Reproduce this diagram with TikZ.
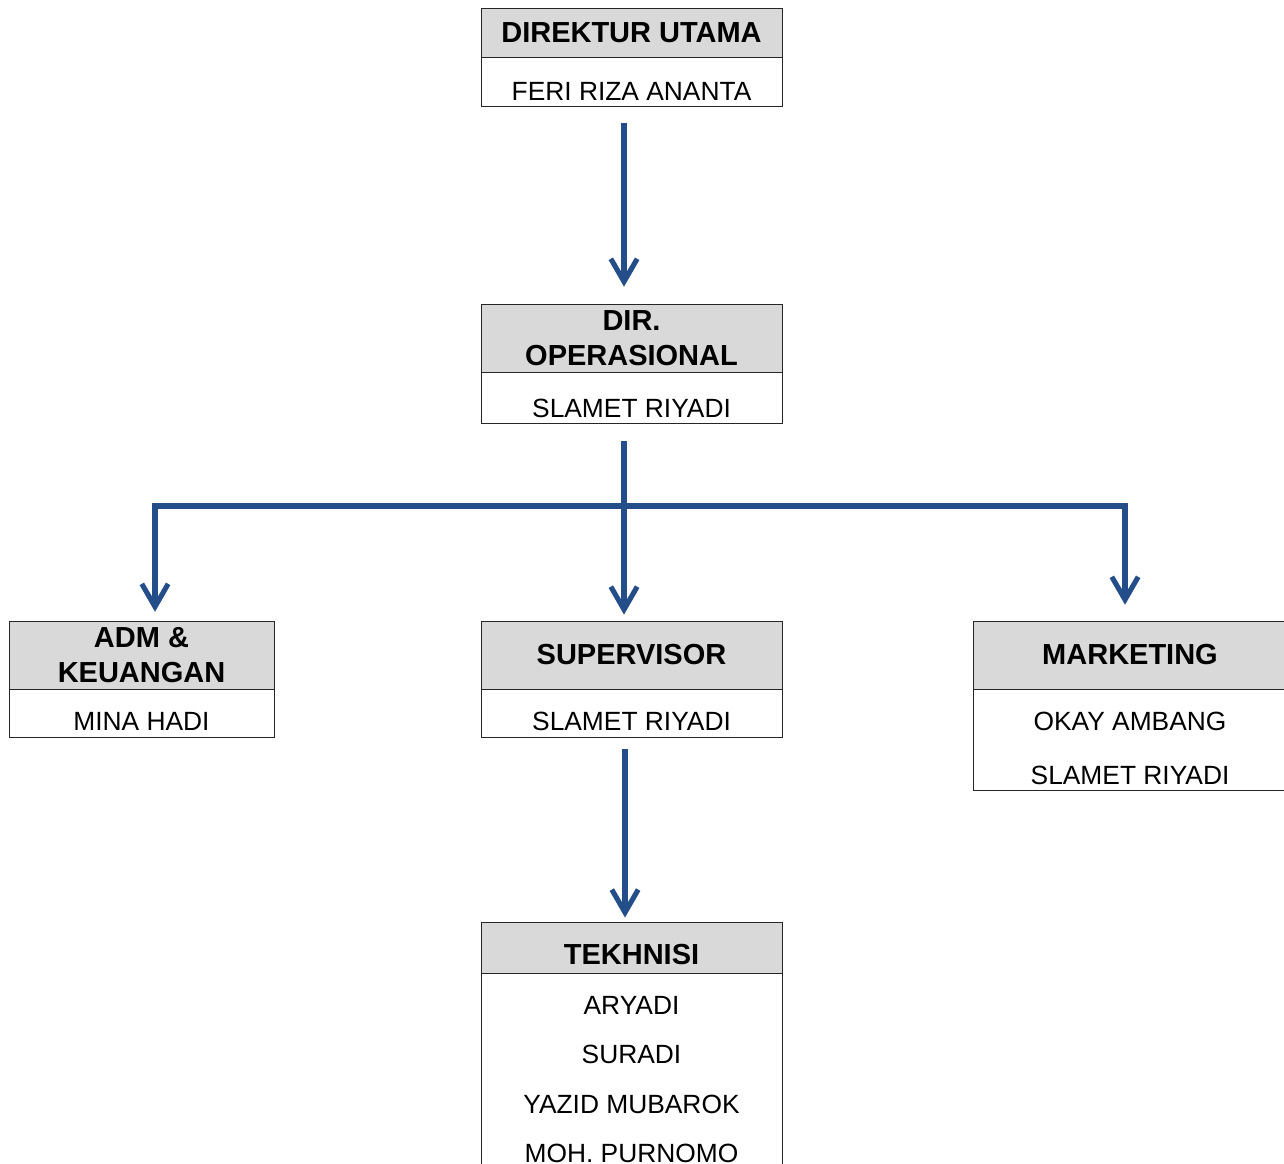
\documentclass[tikz,border=0pt]{standalone}
\usepackage{fontspec}
\setmainfont{Liberation Sans}
\usepackage{tikz}
\usetikzlibrary{arrows.meta,positioning}
\definecolor{headgray}{RGB}{217,217,217}
\definecolor{orgblue}{RGB}{36,78,138}
\tikzset
{
  headbox/.style  = {rectangle, draw=black!85, fill=headgray, align=center, inner sep=0pt, line width=0.5pt, font=\bfseries\fontsize{16.5}{19.8}\selectfont},
  bodybox/.style  = {rectangle, draw=black!85, fill=white, inner sep=0pt, line width=0.5pt},
  nametext/.style = {anchor=base, inner sep=0pt, font=\fontsize{15}{18}\selectfont},
  orgline/.style  = {draw=orgblue, line width=2.9pt},
  orgarrow/.style = {orgline, -{Straight Barb[length=13pt,width=15pt]}}
}
\begin{document}
\begin{tikzpicture}[x=0.02cm, y=-0.02cm, node distance=0pt]
            \clip (0,0) rectangle (1284,1163);
            % direktur utama
            \node [headbox, minimum width=6.02cm, minimum height=0.98cm] (diruthead) at (631.5,32.5) {DIREKTUR UTAMA};
            \node [bodybox, minimum width=6.02cm, minimum height=0.98cm, below=of diruthead] (dirutbody) {};
            \node [nametext] (dirutname) at ([yshift=-0.86cm]dirutbody.north) {FERI RIZA ANANTA};
            % dir. operasional
            \node [headbox, minimum width=6.02cm, minimum height=1.36cm] (dirophead) at (631.5,338) {DIR.\\OPERASIONAL};
            \node [bodybox, minimum width=6.02cm, minimum height=1.02cm, below=of dirophead] (diropbody) {};
            \node [nametext] (diropname) at ([yshift=-0.9cm]diropbody.north) {SLAMET RIYADI};
            % adm & keuangan
            \node [headbox, minimum width=5.3cm, minimum height=1.36cm] (admhead) at (141.5,655) {ADM \&\\KEUANGAN};
            \node [bodybox, minimum width=5.3cm, minimum height=0.96cm, below=of admhead] (admbody) {};
            \node [nametext] (admname) at ([yshift=-0.82cm]admbody.north) {MINA HADI};
            % supervisor
            \node [headbox, minimum width=6.02cm, minimum height=1.36cm] (superhead) at (631.5,655) {SUPERVISOR};
            \node [bodybox, minimum width=6.02cm, minimum height=0.96cm, below=of superhead] (superbody) {};
            \node [nametext] (supername) at ([yshift=-0.82cm]superbody.north) {SLAMET RIYADI};
            % marketing
            \node [headbox, minimum width=6.28cm, minimum height=1.36cm] (markethead) at (1130,655) {MARKETING};
            \node [bodybox, minimum width=6.28cm, minimum height=2.02cm, below=of markethead] (marketbody) {};
            \node [nametext] (marketnameA) at ([yshift=-0.82cm]marketbody.north) {OKAY AMBANG};
            \node [nametext] (marketnameB) at ([yshift=-1.9cm]marketbody.north) {SLAMET RIYADI};
            % tekhnisi
            \node [headbox, minimum width=6.02cm, minimum height=1.02cm, text height=19.2pt, text depth=0pt] (tekhead) at (631.5,947.5) {TEKHNISI};
            \node [bodybox, minimum width=6.02cm, minimum height=5cm, below=of tekhead] (tekbody) {};
            \foreach \who [count=\i from 0] in {ARYADI, SURADI, YAZID MUBAROK, MOH. PURNOMO}
              \node [nametext] (tekname\i) at ([yshift=-0.82cm-\i*0.986cm]tekbody.north) {\who};
            % connectors
            \coordinate (splitL) at (155,506);
            \coordinate (splitR) at (1125,506);
            \draw [orgarrow, shorten <=9pt, shorten >=9.6pt] ([xshift=-0.15cm]dirutbody.south) -- ([xshift=-0.15cm]dirophead.north);
            \draw [orgline, line cap=rect] (splitL) -- (splitR);
            \draw [orgarrow, shorten <=9.6pt, shorten >=3.4pt] ([xshift=-0.15cm]diropbody.south) -- ([xshift=-0.15cm]superhead.north);
            \draw [orgarrow, shorten >=5pt] (splitL) -- (splitL |- admhead.north);
            \draw [orgarrow, shorten >=9pt] (splitR) -- (splitR |- markethead.north);
            \draw [orgarrow, shorten <=6.2pt, shorten >=2.3pt] ([xshift=-0.13cm]superbody.south) -- ([xshift=-0.13cm]tekhead.north);
          \end{tikzpicture}
\end{document}
